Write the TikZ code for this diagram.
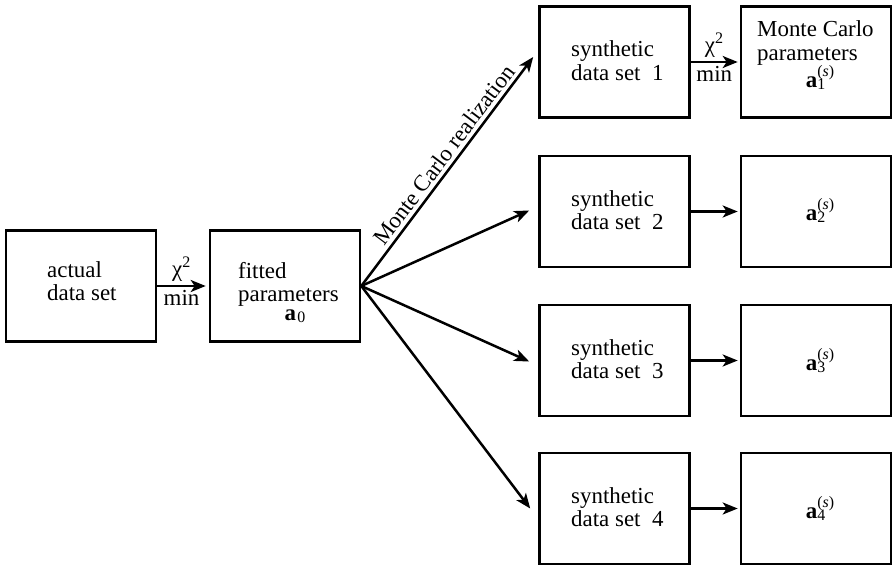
\documentclass[tikz,border=0pt]{standalone}
\usepackage{fontspec}
\setmainfont{Liberation Serif}
\usetikzlibrary{arrows.meta,calc}
\newcommand\scrsz[1]{{\fontsize{16}{16}\selectfont #1}}
\newcommand\avecs[1]{\textbf{a}\rlap{\raisebox{-2bp}{\scrsz{#1}}}\raisebox{11bp}{\scrsz{(\textit{s})}}}
\newcommand\avecz{\textbf{a}\hspace{1.5bp}\raisebox{-2bp}{\scrsz{0}}}
\newcommand\twolines[2]{\begin{tabular}[t]{@{}l@{}}#1\\#2\end{tabular}}
\begin{document}
\begin{tikzpicture}[x=1bp,y=-1bp,
  every node/.style={font=\fontsize{23}{23.5}\selectfont},
  box/.style={draw, line width=2.6bp, minimum width=150bp, minimum height=111bp, inner sep=0pt},
  arr/.style={line width=2.5bp, -{Stealth[length=15bp,width=12bp,inset=4bp]}},
  txt/.style={inner sep=0pt, anchor=base west},
  mathlbl/.style={inner sep=0pt, anchor=base}]
\useasboundingbox (0,0) rectangle (896,566);

% boxes
\node[box] (act) at (81,286) {};
\node[box] (fit) at (285,286) {};
\node[box] (s1) at (614.5,62) {};
\node[box] (s2) at (614.5,211.5) {};
\node[box] (s3) at (614.5,360.5) {};
\node[box] (s4) at (614.5,508.5) {};
\node[box] (p1) at (816,62) {};
\node[box] (p2) at (816,211.5) {};
\node[box] (p3) at (816,360.5) {};
\node[box] (p4) at (816,508.5) {};

% texts
\node[txt] (actT) at (47,277) {\twolines{actual}{data set}};
\node[txt] (fitT) at (238,278) {\twolines{fitted}{parameters}};
\node[mathlbl] (fitA) at (295,320) {\avecz};
\node[txt] (s1T) at (571,57) {\twolines{synthetic}{data set~~1}};
\node[txt] (s2T) at (571,206.5) {\twolines{synthetic}{data set~~2}};
\node[txt] (s3T) at (571,355.5) {\twolines{synthetic}{data set~~3}};
\node[txt] (s4T) at (571,503.5) {\twolines{synthetic}{data set~~4}};
\node[txt] (p1T) at (757,37) {\twolines{Monte Carlo}{parameters}};
\node[mathlbl] (p1A) at (820,88) {\avecs{1}};
\node[mathlbl] (p2A) at (820,221) {\avecs{2}};
\node[mathlbl] (p3A) at (820,370) {\avecs{3}};
\node[mathlbl] (p4A) at (820,518) {\avecs{4}};

% arrows
\draw[arr] (act.east) -- node[above] (chiA) {χ\textsuperscript{2}} node[below] (minA) {min} ([xshift=-3bp]fit.west);
\draw[arr] (s1.east) -- node[above] (chiB) {χ\textsuperscript{2}} node[below] (minB) {min} ([xshift=-2bp]p1.west);
\draw[arr] (s2.east) -- ([xshift=-2bp]p2.west);
\draw[arr] (s3.east) -- ([xshift=-2bp]p3.west);
\draw[arr] (s4.east) -- ([xshift=-2bp]p4.west);

\draw[arr] (fit.east) -- node[above, sloped, pos=0.54] (mcr) {Monte Carlo realization} ($(s1.west)+(-5,-5)$);
\draw[arr] (fit.east) -- ($(s2.west)+(-9,-1)$);
\draw[arr] (fit.east) -- ($(s3.west)+(-9,1)$);
\draw[arr] (fit.east) -- ($(s4.west)+(-8,0)$);
\end{tikzpicture}
\end{document}
